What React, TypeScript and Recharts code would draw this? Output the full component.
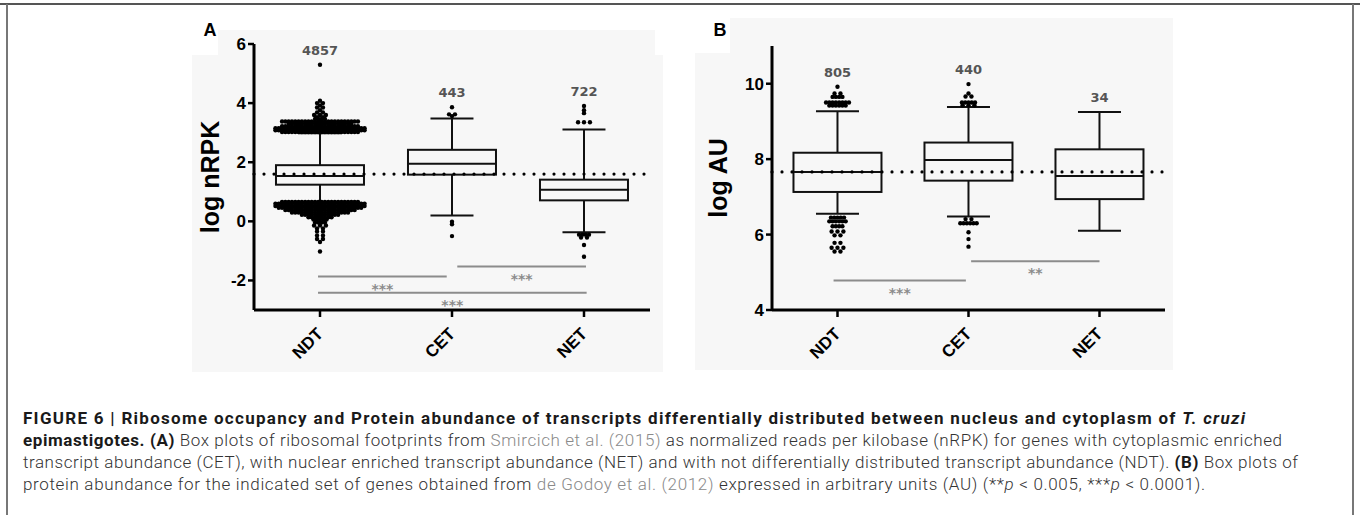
import React from "react";
import { ComposedChart, Bar, Scatter, XAxis, YAxis, ReferenceLine } from "recharts";

const groups = ["NDT", "CET", "NET"];

// panel A - log nRPK
const lowA = [0.62, 0.2, -0.37];
const q1A = [1.24, 1.58, 0.71];
const medA = [1.53, 1.95, 1.07];
const q3A = [1.9, 2.42, 1.41];
const highA = [2.98, 3.48, 3.11];
const countA = ["4857", "443", "722"];
const meanA = 1.6;
const ticksA = [-2, 0, 2, 4, 6];

// outliers: [value, number of dots side by side at that level]
const outNdtA = [
  [5.3, 1], [4.08, 1], [4.0, 2], [3.92, 1], [3.85, 2], [3.76, 1], [3.68, 2], [3.6, 3], [3.52, 2], [3.46, 4],
  [3.38, 24], [3.3, 20], [3.22, 24], [3.15, 28], [3.08, 28], [3.02, 24],
  [0.66, 24], [0.6, 28], [0.52, 28], [0.46, 26], [0.38, 22], [0.3, 18], [0.22, 12],
  [0.14, 8], [0.06, 5], [-0.04, 4], [-0.14, 3], [-0.24, 2], [-0.34, 2], [-0.48, 2],
  [-0.6, 2], [-0.7, 1], [-1.02, 1],
];
const outCetA = [[3.86, 1], [3.62, 2], [3.56, 1], [-0.01, 1], [-0.1, 1], [-0.5, 1]];
const outNetA = [[3.9, 1], [3.76, 1], [3.66, 1], [3.35, 3], [-0.45, 4], [-0.55, 2], [-0.8, 1], [-1.2, 1]];

const sigFromA = [-0.015, 1.04, -0.015];
const sigToA = [0.96, 2.015, 2.02];
const sigYA = [-1.87, -1.53, -2.42];
const sigTextA = ["***", "***", "***"];

// panel B - log AU
const lowB = [6.55, 6.48, 6.1];
const q1B = [7.13, 7.43, 6.94];
const medB = [7.66, 7.98, 7.55];
const q3B = [8.17, 8.44, 8.26];
const highB = [9.27, 9.38, 9.25];
const countB = ["805", "440", "34"];
const meanB = 7.66;
const ticksB = [4, 6, 8, 10];

const outNdtB = [
  [9.92, 1], [9.74, 2], [9.65, 4], [9.5, 8], [9.42, 6],
  [6.45, 5], [6.35, 6], [6.22, 4], [6.08, 3], [5.98, 2], [5.78, 2], [5.65, 3], [5.55, 2],
];
const outCetB = [[9.99, 1], [9.74, 1], [9.66, 2], [9.5, 5], [9.43, 3], [6.41, 2], [6.3, 6], [6.06, 1], [5.88, 1], [5.68, 1]];
const outNetB: number[][] = [];

const sigFromB = [-0.03, 1.02];
const sigToB = [0.98, 2.0];
const sigYB = [4.78, 5.29];
const sigTextB = ["***", "**"];

const DOT_STEP = 0.025; // spacing of dots in one row, in category units
const BOX_W = 88;
const CAP_W = 43;

// lay out each row of points side by side (beeswarm style); sparse rows get a looser spacing
function swarm(rows: number[][], i: number) {
  const pts: { x: number; y: number }[] = [];
  rows.forEach(([v, n]) => {
    const step = n <= 3 ? DOT_STEP * 1.8 : DOT_STEP;
    for (let j = 0; j < n; j++) pts.push({ x: i + (j - (n - 1) / 2) * step, y: v });
  });
  return pts;
}

function makeBoxes(low, q1, med, q3, high, counts, outs) {
  return groups.map((g, i) => ({
    x: i,
    name: g,
    range: [low[i], high[i]],
    low: low[i],
    q1: q1[i],
    med: med[i],
    q3: q3[i],
    high: high[i],
    count: counts[i],
    top: Math.max(high[i], ...outs[i].map((r) => r[0])),
  }));
}

const boxesA = makeBoxes(lowA, q1A, medA, q3A, highA, countA, [outNdtA, outCetA, outNetA]);
const boxesB = makeBoxes(lowB, q1B, medB, q3B, highB, countB, [outNdtB, outCetB, outNetB]);
const dotsA = [...swarm(outNdtA, 0), ...swarm(outCetA, 1), ...swarm(outNetA, 2)];
const dotsB = [...swarm(outNdtB, 0), ...swarm(outCetB, 1), ...swarm(outNetB, 2)];

const BoxShape = (props: any) => {
  const { x, y, width, height, payload } = props;
  const cx = x + width / 2;
  const yTop = Math.min(y, y + height);
  const yBot = Math.max(y, y + height);
  const k = (yBot - yTop) / (payload.high - payload.low);
  const py = (v: number) => yBot - (v - payload.low) * k;
  const s = { stroke: "#111", strokeWidth: 2, fill: "none" };
  return (
    <g>
      <line x1={cx} x2={cx} y1={py(payload.high)} y2={py(payload.q3)} {...s} />
      <line x1={cx} x2={cx} y1={py(payload.q1)} y2={py(payload.low)} {...s} />
      <line x1={cx - CAP_W / 2} x2={cx + CAP_W / 2} y1={py(payload.high)} y2={py(payload.high)} {...s} />
      <line x1={cx - CAP_W / 2} x2={cx + CAP_W / 2} y1={py(payload.low)} y2={py(payload.low)} {...s} />
      <rect x={cx - BOX_W / 2} y={py(payload.q3)} width={BOX_W} height={py(payload.q1) - py(payload.q3)} {...s} />
      <line x1={cx - BOX_W / 2} x2={cx + BOX_W / 2} y1={py(payload.med)} y2={py(payload.med)} {...s} />
      <text
        x={cx}
        y={py(payload.top) - 10}
        textAnchor="middle"
        fontFamily="DejaVu Sans"
        fontWeight="bold"
        fontSize={13}
        fill="#555"
      >
        {payload.count}
      </text>
    </g>
  );
};

const Dot = (props: any) => <circle cx={props.cx} cy={props.cy} r={2.2} fill="#000" />;

const GroupTick = (props: any) => {
  const { x, y, payload } = props;
  const ax = x + 4;
  const ay = y + 16;
  return (
    <text
      x={ax}
      y={ay}
      textAnchor="end"
      transform={`rotate(-45, ${ax}, ${ay})`}
      fontFamily="Liberation Sans"
      fontWeight="bold"
      fontSize={17}
      fill="#000"
    >
      {groups[payload.value]}
    </text>
  );
};

const YTitle = (props: any) => {
  const { viewBox, text, dx } = props;
  const cx = viewBox.x + dx;
  const cy = viewBox.y + viewBox.height / 2;
  return (
    <text
      x={cx}
      y={cy}
      textAnchor="middle"
      dominantBaseline="central"
      transform={`rotate(-90, ${cx}, ${cy})`}
      fontFamily="Liberation Sans"
      fontWeight="bold"
      fontSize={25}
      fill="#000"
    >
      {text}
    </text>
  );
};

const Stars = (props: any) => {
  const { viewBox, text } = props;
  return (
    <text
      x={viewBox.x + viewBox.width / 2}
      y={viewBox.y + 17}
      textAnchor="middle"
      fontFamily="DejaVu Sans"
      fontWeight="bold"
      fontSize={14}
      fill="#8c8c8c"
    >
      {text}
    </text>
  );
};

function Panel({ left, width, marginTop, boxes, dots, domain, ticks, mean, sigFrom, sigTo, sigY, sigText, title, titleDx }) {
  return (
    <div style={{ position: "absolute", left, top: 0 }}>
      <ComposedChart width={width} height={372} data={boxes} margin={{ top: marginTop, right: 20, bottom: 12, left: 0 }}>
        <XAxis
          type="number"
          dataKey="x"
          domain={[-0.5, 2.5]}
          ticks={[0, 1, 2]}
          tick={<GroupTick />}
          tickSize={7}
          height={50}
          axisLine={{ stroke: "#000", strokeWidth: 3 }}
          tickLine={{ stroke: "#000", strokeWidth: 2.5 }}
        />
        <YAxis
          type="number"
          domain={domain}
          ticks={ticks}
          width={104}
          tickSize={6}
          axisLine={{ stroke: "#000", strokeWidth: 3 }}
          tickLine={{ stroke: "#000", strokeWidth: 2.5 }}
          tick={{ fontFamily: "Liberation Sans", fontWeight: "bold", fontSize: 17, fill: "#000" }}
          label={<YTitle text={title} dx={titleDx} />}
        />
        <ReferenceLine y={mean} stroke="#000" strokeWidth={3.2} strokeDasharray="0 10" strokeLinecap="round" />
        {sigY.map((yv, i) => (
          <ReferenceLine
            key={i}
            segment={[{ x: sigFrom[i], y: yv }, { x: sigTo[i], y: yv }]}
            stroke="#8c8c8c"
            strokeWidth={2}
            label={<Stars text={sigText[i]} />}
          />
        ))}
        <Bar dataKey="range" barSize={BOX_W} shape={<BoxShape />} isAnimationActive={false} />
        <Scatter data={dots} dataKey="y" shape={<Dot />} isAnimationActive={false} />
      </ComposedChart>
    </div>
  );
}

const cap = { fontFamily: "Roboto", fontSize: 17 };
const bold = { fontWeight: 700, fill: "#1a1a1a" };
const link = { fill: "#8a8a8a" };

export default function App() {
  return (
    <div style={{ position: "absolute", left: 0, top: 0, width: 1360, height: 515, background: "#fff", overflow: "hidden" }}>
      {/* light gray plot backgrounds of the scanned figure */}
      <div style={{ position: "absolute", left: 192, top: 55, width: 471, height: 317, background: "#f7f7f7" }} />
      <div style={{ position: "absolute", left: 218, top: 30, width: 437, height: 25, background: "#f7f7f7" }} />
      <div style={{ position: "absolute", left: 695, top: 53, width: 478, height: 317, background: "#f7f7f7" }} />
      <div style={{ position: "absolute", left: 730, top: 18, width: 443, height: 35, background: "#f7f7f7" }} />

      <Panel
        left={150}
        width={520}
        marginTop={44}
        boxes={boxesA}
        dots={dotsA}
        domain={[-3, 6]}
        ticks={ticksA}
        mean={meanA}
        sigFrom={sigFromA}
        sigTo={sigToA}
        sigY={sigYA}
        sigText={sigTextA}
        title="log nRPK"
        titleDx={60}
      />
      <Panel
        left={668}
        width={517}
        marginTop={46}
        boxes={boxesB}
        dots={dotsB}
        domain={[4, 11]}
        ticks={ticksB}
        mean={meanB}
        sigFrom={sigFromB}
        sigTo={sigToB}
        sigY={sigYB}
        sigText={sigTextB}
        title="log AU"
        titleDx={50}
      />

      <svg width={1360} height={515} style={{ position: "absolute", left: 0, top: 0, pointerEvents: "none" }}>
        <line x1={0} x2={1360} y1={4} y2={4} stroke="#555" strokeWidth={2} />
        <line x1={7} x2={7} y1={4} y2={515} stroke="#777" strokeWidth={2} />
        <line x1={1353} x2={1353} y1={4} y2={515} stroke="#777" strokeWidth={2} />

        <text x={210} y={36} textAnchor="middle" fontFamily="Liberation Sans" fontWeight="bold" fontSize={18}>A</text>
        <text x={720} y={36} textAnchor="middle" fontFamily="Liberation Sans" fontWeight="bold" fontSize={18}>B</text>

        <text x={23} y={424} {...cap} {...bold} textLength={1222} lengthAdjust="spacing">
          FIGURE 6 | Ribosome occupancy and Protein abundance of transcripts differentially distributed between nucleus and cytoplasm of{" "}
          <tspan fontStyle="italic">T. cruzi</tspan>
        </text>
        <text x={23} y={446} {...cap} fontWeight={300} fill="#333" textLength={1259} lengthAdjust="spacing">
          <tspan {...bold}>epimastigotes. (A)</tspan> Box plots of ribosomal footprints from{" "}
          <tspan {...link}>Smircich et al. (2015)</tspan> as normalized reads per kilobase (nRPK) for genes with cytoplasmic enriched
        </text>
        <text x={23} y={468} {...cap} fontWeight={300} fill="#333" textLength={1275} lengthAdjust="spacing">
          transcript abundance (CET), with nuclear enriched transcript abundance (NET) and with not differentially distributed transcript abundance (NDT).{" "}
          <tspan {...bold}>(B)</tspan> Box plots of
        </text>
        <text x={23} y={490} {...cap} fontWeight={300} fill="#333" textLength={1182} lengthAdjust="spacing">
          protein abundance for the indicated set of genes obtained from <tspan {...link}>de Godoy et al. (2012)</tspan> expressed
          in arbitrary units (AU) (**<tspan fontStyle="italic">p</tspan> &lt; 0.005, ***<tspan fontStyle="italic">p</tspan> &lt; 0.0001).
        </text>
      </svg>
    </div>
  );
}
